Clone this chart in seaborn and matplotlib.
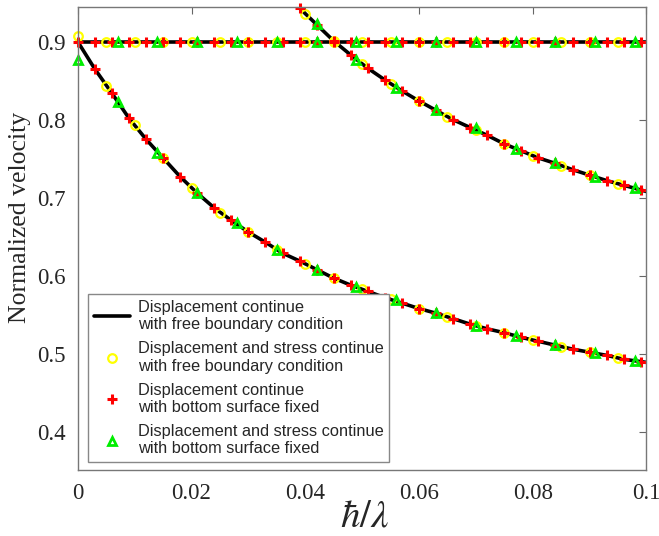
import numpy as np
import pandas as pd
import matplotlib
matplotlib.use("Agg")
import matplotlib.pyplot as plt
import seaborn as sns

# ---------------- data ----------------
# black line: three branches
line_flat_x = [0.0, 0.1]
line_flat_y = [0.900, 0.900]

line_low_x = [0.000, 0.003, 0.006, 0.009, 0.012, 0.015, 0.018, 0.021, 0.024, 0.027,
              0.030, 0.033, 0.036, 0.039, 0.042, 0.045, 0.048, 0.051, 0.054, 0.057,
              0.060, 0.063, 0.066, 0.069, 0.072, 0.075, 0.078, 0.081, 0.084, 0.087,
              0.090, 0.093, 0.096, 0.099, 0.100]
line_low_y = [0.900, 0.865, 0.834, 0.802, 0.775, 0.751, 0.727, 0.706, 0.687, 0.671,
              0.656, 0.643, 0.629, 0.619, 0.608, 0.597, 0.588, 0.580, 0.572, 0.565,
              0.558, 0.552, 0.545, 0.538, 0.532, 0.527, 0.521, 0.516, 0.511, 0.506,
              0.502, 0.498, 0.493, 0.490, 0.489]

line_up_x = [0.038, 0.039, 0.042, 0.045, 0.048, 0.051, 0.054, 0.057, 0.060, 0.063,
             0.066, 0.069, 0.072, 0.075, 0.078, 0.081, 0.084, 0.087, 0.090, 0.093,
             0.096, 0.099, 0.100]
line_up_y = [0.951, 0.943, 0.922, 0.901, 0.883, 0.866, 0.851, 0.837, 0.824, 0.812,
             0.800, 0.790, 0.780, 0.769, 0.760, 0.751, 0.744, 0.736, 0.729, 0.722,
             0.716, 0.710, 0.708]

# yellow circles (displacement and stress continue, free boundary)
yel_x = [0.000,
         0.005, 0.010, 0.015, 0.020, 0.025, 0.030, 0.035, 0.040, 0.045, 0.050,
         0.055, 0.060, 0.065, 0.070, 0.075, 0.080, 0.085, 0.090, 0.095,
         0.005, 0.010, 0.015, 0.020, 0.025, 0.030, 0.035, 0.040, 0.045, 0.050,
         0.055, 0.060, 0.065, 0.070, 0.075, 0.080, 0.085, 0.090, 0.095,
         0.040, 0.045, 0.050, 0.055, 0.060, 0.065, 0.070, 0.075, 0.080, 0.085,
         0.090, 0.095]
yel_y = [0.907,
         0.900, 0.900, 0.900, 0.900, 0.900, 0.900, 0.900, 0.900, 0.900, 0.900,
         0.900, 0.900, 0.900, 0.900, 0.900, 0.900, 0.900, 0.900, 0.900,
         0.843, 0.793, 0.751, 0.713, 0.681, 0.656, 0.633, 0.615, 0.597, 0.583,
         0.570, 0.558, 0.547, 0.536, 0.527, 0.518, 0.509, 0.502, 0.494,
         0.936, 0.901, 0.871, 0.846, 0.824, 0.804, 0.787, 0.769, 0.754, 0.741,
         0.729, 0.717]

# red plus (displacement continue, bottom fixed)
red_x = [0.000, 0.003, 0.006, 0.009, 0.012, 0.015, 0.018, 0.021, 0.024, 0.027,
         0.030, 0.033, 0.036, 0.039, 0.042, 0.045, 0.048, 0.051, 0.054, 0.057,
         0.060, 0.063, 0.066, 0.069, 0.072, 0.075, 0.078, 0.081, 0.084, 0.087,
         0.090, 0.093, 0.096, 0.099,
         0.003, 0.006, 0.009, 0.012, 0.015, 0.018, 0.021, 0.024, 0.027,
         0.030, 0.033, 0.036, 0.039, 0.042, 0.045, 0.048, 0.051, 0.054, 0.057,
         0.060, 0.063, 0.066, 0.069, 0.072, 0.075, 0.078, 0.081, 0.084, 0.087,
         0.090, 0.093, 0.096, 0.099,
         0.039, 0.042, 0.045, 0.048, 0.051, 0.054, 0.057, 0.060, 0.063,
         0.066, 0.069, 0.072, 0.075, 0.078, 0.081, 0.084, 0.087, 0.090, 0.093,
         0.096, 0.099]
red_y = [0.900, 0.900, 0.900, 0.900, 0.900, 0.900, 0.900, 0.900, 0.900, 0.900,
         0.900, 0.900, 0.900, 0.900, 0.900, 0.900, 0.900, 0.900, 0.900, 0.900,
         0.900, 0.900, 0.900, 0.900, 0.900, 0.900, 0.900, 0.900, 0.900, 0.900,
         0.900, 0.900, 0.900, 0.900,
         0.865, 0.834, 0.802, 0.775, 0.751, 0.727, 0.706, 0.687, 0.671,
         0.656, 0.643, 0.629, 0.619, 0.608, 0.597, 0.588, 0.580, 0.572, 0.565,
         0.558, 0.552, 0.545, 0.538, 0.532, 0.527, 0.521, 0.516, 0.511, 0.506,
         0.502, 0.498, 0.493, 0.490,
         0.943, 0.922, 0.901, 0.883, 0.866, 0.851, 0.837, 0.824, 0.812,
         0.800, 0.790, 0.780, 0.769, 0.760, 0.751, 0.744, 0.736, 0.729, 0.722,
         0.716, 0.710]

# green triangles (displacement and stress continue, bottom fixed)
grn_x = [0.000,
         0.007, 0.014, 0.021, 0.028, 0.035, 0.042, 0.049, 0.056, 0.063, 0.070,
         0.077, 0.084, 0.091, 0.098,
         0.007, 0.014, 0.021, 0.028, 0.035, 0.042, 0.049, 0.056, 0.063, 0.070,
         0.077, 0.084, 0.091, 0.098,
         0.042, 0.049, 0.056, 0.063, 0.070, 0.077, 0.084, 0.091, 0.098]
grn_y = [0.877,
         0.900, 0.900, 0.900, 0.900, 0.900, 0.900, 0.900, 0.900, 0.900, 0.900,
         0.900, 0.900, 0.900, 0.900,
         0.823, 0.757, 0.706, 0.667, 0.633, 0.608, 0.585, 0.569, 0.552, 0.536,
         0.523, 0.511, 0.501, 0.491,
         0.923, 0.877, 0.841, 0.812, 0.789, 0.762, 0.744, 0.726, 0.712]

x_ticks = [0, 0.02, 0.04, 0.06, 0.08, 0.1]
x_tick_labels = ["0", "0.02", "0.04", "0.06", "0.08", "0.1"]
y_ticks = [0.4, 0.5, 0.6, 0.7, 0.8, 0.9]
y_tick_labels = ["0.4", "0.5", "0.6", "0.7", "0.8", "0.9"]

labels = ["Displacement continue\nwith free boundary condition",
          "Displacement and stress continue\nwith free boundary condition",
          "Displacement continue\nwith bottom surface fixed",
          "Displacement and stress continue\nwith bottom surface fixed"]

# ---------------- plotting ----------------
sns.set_theme(style="white")
plt.rcParams["font.family"] = ["Liberation Serif", "DejaVu Serif"]
plt.rcParams["mathtext.fontset"] = "stix"

fig = plt.figure(figsize=(6.59, 5.36), dpi=100)
ax = fig.add_axes([0.118, 0.123, 0.863, 0.864])

for i, (lx, ly) in enumerate([(line_flat_x, line_flat_y),
                              (line_low_x, line_low_y),
                              (line_up_x, line_up_y)]):
    sns.lineplot(x=lx, y=ly, ax=ax, color="black", linewidth=2.6,
                 estimator=None, sort=False,
                 label=labels[0] if i == 0 else None)

sns.lineplot(x=yel_x, y=yel_y, ax=ax, estimator=None, sort=False,
             linestyle="", marker="o", markersize=6.2, markerfacecolor="none",
             markeredgecolor="#ffff00", markeredgewidth=1.6, label=labels[1],
             clip_on=False)
sns.lineplot(x=red_x, y=red_y, ax=ax, estimator=None, sort=False,
             linestyle="", marker="+", markersize=7, markeredgecolor="#ff0000",
             color="#ff0000", markeredgewidth=2.2, label=labels[2],
             clip_on=False)
sns.lineplot(x=grn_x, y=grn_y, ax=ax, estimator=None, sort=False,
             linestyle="", marker="^", markersize=6.2, markerfacecolor="none",
             markeredgecolor="#00ee00", markeredgewidth=2.0, label=labels[3],
             clip_on=False)

ax.set_xlim(0, 0.1)
ax.set_ylim(0.351, 0.9445)
ax.set_xticks(x_ticks)
ax.set_xticklabels(x_tick_labels)
ax.set_yticks(y_ticks)
ax.set_yticklabels(y_tick_labels)
ax.tick_params(direction="in", length=5, width=0.8, color="#666666",
               top=True, right=True, labelsize=16.5, pad=9)
for sp in ax.spines.values():
    sp.set_color("#777777")
    sp.set_linewidth(1.0)
ax.grid(False)

ax.set_ylabel("Normalized velocity", fontsize=18.5)
ax.yaxis.set_label_coords(-0.082, 0.546)
ax.set_xlabel(r"$\hbar/\lambda$", fontsize=28)
ax.xaxis.set_label_coords(0.505, -0.062)

leg = ax.legend(loc="lower left", bbox_to_anchor=(0.0176, 0.017),
                borderaxespad=0, frameon=True, fancybox=False,
                prop={"family": ["Liberation Sans", "DejaVu Sans"], "size": 11.8},
                handlelength=2.2, handletextpad=0.5, labelspacing=0.55,
                borderpad=0.35)
leg.get_frame().set_edgecolor("#888888")
leg.get_frame().set_linewidth(1.0)
leg.get_frame().set_alpha(1.0)
leg.set_zorder(5)

fig.savefig("out.png", dpi=100)
